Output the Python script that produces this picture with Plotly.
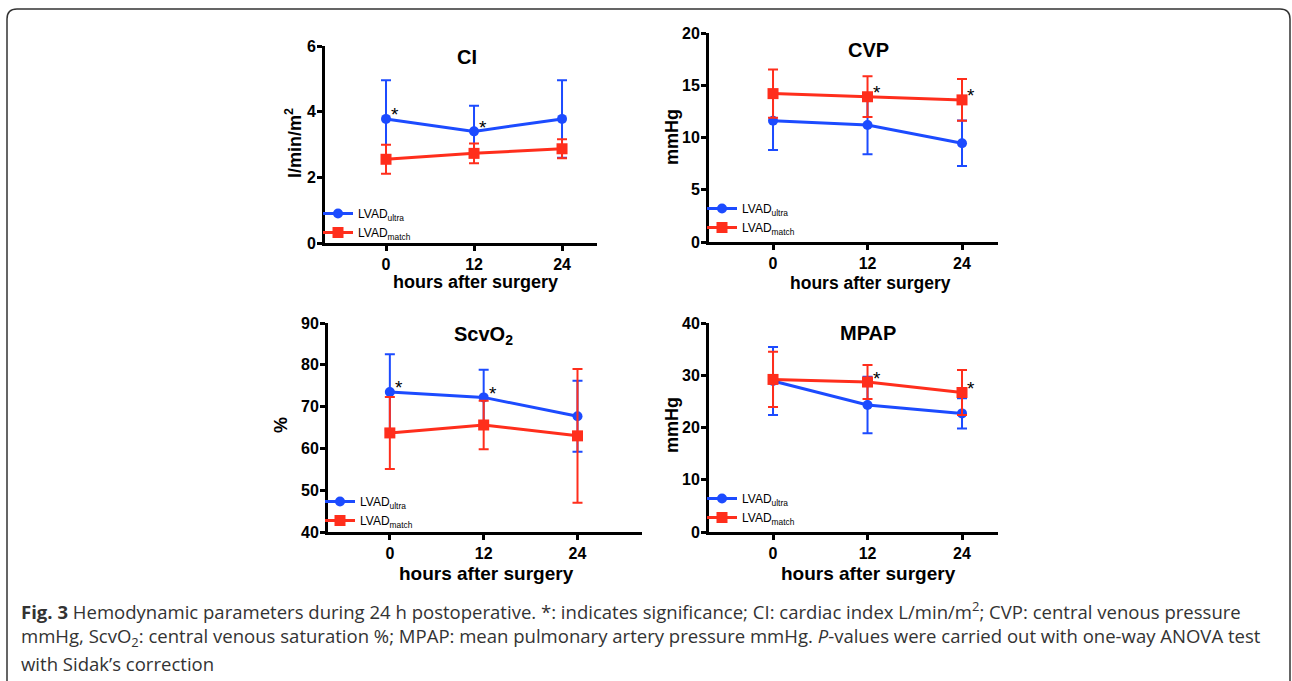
import plotly.graph_objects as go

W, H = 1292, 681

hours = [0, 12, 24]
hour_ticks = ["0", "12", "24"]

# CI (l/min/m2)
ci_ultra = [3.78, 3.40, 3.78]
ci_ultra_sd = [1.18, 0.78, 1.18]
ci_match = [2.55, 2.73, 2.87]
ci_match_sd = [0.44, 0.30, 0.29]
ci_sig_hours = [0, 12]

# CVP (mmHg)
cvp_ultra = [11.6, 11.2, 9.45]
cvp_ultra_sd = [2.8, 2.8, 2.17]
cvp_match = [14.2, 13.9, 13.6]
cvp_match_sd = [2.3, 1.95, 2.0]
cvp_sig_hours = [12, 24]

# ScvO2 (%)
scv_ultra = [73.5, 72.2, 67.7]
scv_ultra_sd = [9.0, 6.6, 8.5]
scv_match = [63.7, 65.6, 63.0]
scv_match_sd = [8.6, 5.8, 16.0]
scv_sig_hours = [0, 12]

# MPAP (mmHg)
mpap_ultra = [28.9, 24.3, 22.7]
mpap_ultra_sd = [6.5, 5.4, 2.9]
mpap_match = [29.2, 28.7, 26.7]
mpap_match_sd = [5.3, 3.25, 4.3]
mpap_sig_hours = [12, 24]

series_names = ["LVAD<sub>ultra</sub>", "LVAD<sub>match</sub>"]
BLUE = "#1C4BFF"
RED = "#FF2E1C"
FONT = "Liberation Sans, Arial, sans-serif"


def px_x(p):
    return p / W


def px_y(p):
    return 1 - p / H


# panel layout (pixel boxes) : left, right, top, bottom
panels = [
    dict(key="1", box=(325, 597, 46, 243), xr=(-8.32, 28.77), yr=(0, 6), dtick=2,
         title="CI", title_pos=(467, 57), ytitle="l/min/m<sup>2</sup>", ytitle_pos=(294, 143),
         xtitle_pos=(475, 282), xtitle_size=18,
         u=ci_ultra, usd=ci_ultra_sd, m=ci_match, msd=ci_match_sd,
         sig=ci_sig_hours, sig_ref="u", legend_pos=(318, 199)),
    dict(key="2", box=(709, 998, 33, 242), xr=(-8.13, 28.57), yr=(0, 20), dtick=5,
         title="CVP", title_pos=(868, 50), ytitle="mmHg", ytitle_pos=(672, 137),
         xtitle_pos=(870, 283), xtitle_size=17.5,
         u=cvp_ultra, usd=cvp_ultra_sd, m=cvp_match, msd=cvp_match_sd,
         sig=cvp_sig_hours, sig_ref="m", legend_pos=(702, 194)),
    dict(key="3", box=(328, 642, 323, 532), xr=(-7.91, 32.25), yr=(40, 90), dtick=10,
         title="ScvO<sub>2</sub>", title_pos=(483, 335), ytitle="%", ytitle_pos=(281, 425),
         xtitle_pos=(486, 573), xtitle_size=19,
         u=scv_ultra, usd=scv_ultra_sd, m=scv_match, msd=scv_match_sd,
         sig=scv_sig_hours, sig_ref="u", legend_pos=(320, 487)),
    dict(key="4", box=(709, 998, 323, 532), xr=(-8.13, 28.57), yr=(0, 40), dtick=10,
         title="MPAP", title_pos=(868, 333), ytitle="mmHg", ytitle_pos=(672, 425),
         xtitle_pos=(868, 573), xtitle_size=19,
         u=mpap_ultra, usd=mpap_ultra_sd, m=mpap_match, msd=mpap_match_sd,
         sig=mpap_sig_hours, sig_ref="m", legend_pos=(702, 484)),
]

fig = go.Figure()
layout = dict(
    template="none",
    width=W, height=H, autosize=False,
    margin=dict(l=0, r=0, t=0, b=0, pad=0, autoexpand=False),
    paper_bgcolor="white", plot_bgcolor="white",
    showlegend=True,
    font=dict(family=FONT, color="black"),
)
annotations = []

for i, p in enumerate(panels):
    k = p["key"]
    xa = "x" if k == "1" else "x" + k
    ya = "y" if k == "1" else "y" + k
    xname = "xaxis" if k == "1" else "xaxis" + k
    yname = "yaxis" if k == "1" else "yaxis" + k
    lname = "legend" if k == "1" else "legend" + k
    l, r, t, b = p["box"]

    for name, vals, sd, color, sym, size in [
        (series_names[0], p["u"], p["usd"], BLUE, "circle", 10),
        (series_names[1], p["m"], p["msd"], RED, "square", 11),
    ]:
        fig.add_trace(go.Scatter(
            x=hours, y=vals, mode="lines+markers", name=name,
            line=dict(color=color, width=3),
            marker=dict(color=color, symbol=sym, size=size, line=dict(width=0)),
            error_y=dict(type="data", array=sd, visible=True, color=color,
                         thickness=2, width=5),
            xaxis=xa, yaxis=ya, legend=lname, hoverinfo="skip",
        ))

    axis_common = dict(
        showline=True, linewidth=3, linecolor="black", showgrid=False, zeroline=False,
        ticks="outside", ticklen=5, tickwidth=3, tickcolor="black",
        tickfont=dict(family=FONT, size=16, color="black", weight="bold"),
        fixedrange=True, automargin=False,
    )
    layout[xname] = dict(axis_common, domain=[px_x(l), px_x(r)], range=list(p["xr"]),
                         tickvals=hours, ticktext=hour_ticks, anchor=ya)
    layout[yname] = dict(axis_common, domain=[px_y(b), px_y(t)], range=list(p["yr"]),
                         dtick=p["dtick"], tick0=p["yr"][0], anchor=xa,
                         ticklabelstandoff=-2)
    lx, ly = p["legend_pos"]
    layout[lname] = dict(x=px_x(lx), y=px_y(ly), xanchor="left", yanchor="top",
                         bgcolor="rgba(0,0,0,0)", borderwidth=0,
                         font=dict(family=FONT, size=12, color="black"),
                         tracegroupgap=0, itemwidth=30)

    # panel title
    tx, ty = p["title_pos"]
    annotations.append(dict(text="<b>%s</b>" % p["title"], x=px_x(tx), y=px_y(ty),
                            xref="paper", yref="paper", showarrow=False,
                            xanchor="center", yanchor="middle",
                            font=dict(family=FONT, size=20, color="black")))
    # y title
    yx, yy = p["ytitle_pos"]
    annotations.append(dict(text="<b>%s</b>" % p["ytitle"], x=px_x(yx), y=px_y(yy),
                            xref="paper", yref="paper", showarrow=False, textangle=-90,
                            xanchor="center", yanchor="middle",
                            font=dict(family=FONT, size=18, color="black")))
    # x title
    xx, xy = p["xtitle_pos"]
    annotations.append(dict(text="<b>hours after surgery</b>", x=px_x(xx), y=px_y(xy),
                            xref="paper", yref="paper", showarrow=False,
                            xanchor="center", yanchor="middle",
                            font=dict(family=FONT, size=p["xtitle_size"], color="black")))
    # significance stars
    ref = p["u"] if p["sig_ref"] == "u" else p["m"]
    for h in p["sig"]:
        annotations.append(dict(text="*", x=h, y=ref[hours.index(h)], xref=xa, yref=ya,
                                showarrow=False, xanchor="center", yanchor="middle",
                                xshift=9, yshift=4,
                                font=dict(family=FONT, size=19, color="black")))

# caption
caption_lines = [
    "<b>Fig. 3</b> Hemodynamic parameters during 24 h postoperative. *: indicates significance; "
    "CI: cardiac index L/min/m<sup>2</sup>; CVP: central venous pressure",
    "mmHg, ScvO<sub>2</sub>: central venous saturation %; MPAP: mean pulmonary artery pressure "
    "mmHg. <i>P</i>-values were carried out with one-way ANOVA test",
    "with Sidak’s correction",
]
caption_y = [610, 637, 663]
for line, cy in zip(caption_lines, caption_y):
    annotations.append(dict(text=line, x=px_x(19), y=px_y(cy), xref="paper", yref="paper",
                            showarrow=False, xanchor="left", yanchor="middle", align="left",
                            font=dict(family="Open Sans, sans-serif", size=18.55, color="#333333")))

layout["annotations"] = annotations

# rounded frame (open at bottom, extends below the picture)
x0, x1 = px_x(7), px_x(1290)
yt, yb = px_y(9), px_y(700)
rx, ry = 10 / W, 10 / H
path = (f"M {x0},{yb} L {x0},{yt - ry} Q {x0},{yt} {x0 + rx},{yt} "
        f"L {x1 - rx},{yt} Q {x1},{yt} {x1},{yt - ry} L {x1},{yb}")
layout["shapes"] = [dict(type="path", path=path, xref="paper", yref="paper",
                         line=dict(color="#333333", width=1.5), layer="above")]

fig.update_layout(**layout)
fig.write_html(
    "out.html",
    config={"displayModeBar": False},
    post_script="document.body.style.margin='0';document.body.style.overflow='hidden';",
)
